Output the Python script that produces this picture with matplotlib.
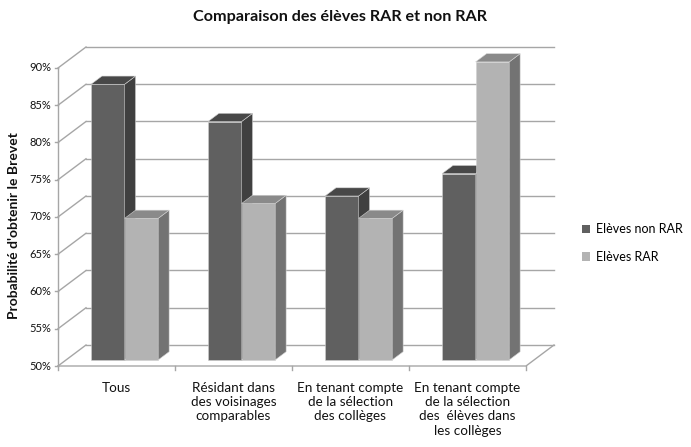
import matplotlib.pyplot as plt
from matplotlib.patches import Polygon, Patch

# données
categories = [
    "Tous",
    "Résidant dans\ndes voisinages\ncomparables",
    "En tenant compte\nde la sélection\ndes collèges",
    "En tenant compte\nde la sélection\ndes  élèves dans\nles collèges",
]
non_rar = [87, 82, 72, 75]
rar = [69, 71, 69, 90]
series_names = ["Elèves non RAR", "Elèves RAR"]
yticks = [50, 55, 60, 65, 70, 75, 80, 85, 90]

plt.rcParams['font.family'] = ['Lato', 'DejaVu Sans']

W, H = 691, 447
fig = plt.figure(figsize=(W / 100, H / 100), dpi=100)
ax = fig.add_axes([0, 0, 1, 1])
ax.set_axis_off()

# échelle du plan avant (en pixels) -> unités catégorie / pourcentage
px_cat = 117.0
px_pct = 7.45
x0_px, y0_px = 58, 366
ax.set_xlim(-x0_px / px_cat, (W - x0_px) / px_cat)
ax.set_ylim(50 - (H - y0_px) / px_pct, 50 + y0_px / px_pct)

# profondeur (effet 3D)
DX = 28 / px_cat
DY = 21 / px_pct


def P(x, v, d):
    return (x + d * DX, v + d * DY)


n = len(categories)
grid_c = "#a6a6a6"
txt_c = "#111111"
vmin = yticks[0]

# mur du fond + mur de gauche
for v in yticks:
    a, b = P(0, v, 1), P(n, v, 1)
    ax.plot([a[0], b[0]], [a[1], b[1]], color=grid_c, lw=1, zorder=1)
    a, b = P(0, v, 0), P(0, v, 1)
    ax.plot([a[0], b[0]], [a[1], b[1]], color=grid_c, lw=1, zorder=1)
    ax.plot([-3 / px_cat, 0], [v, v], color=grid_c, lw=1, zorder=1)
    ax.text(-7 / px_cat, v, f"{v}%", ha="right", va="center", fontsize=8,
            color=txt_c)

# sol
a, b, c = P(0, vmin, 0), P(n, vmin, 0), P(n, vmin, 1)
ax.plot([a[0], b[0], c[0]], [a[1], b[1], c[1]], color=grid_c, lw=1, zorder=1)
ax.plot([0, 0], [vmin, yticks[-1]], color=grid_c, lw=1, zorder=1)
for i in range(n + 1):
    ax.plot([i, i], [vmin, vmin - 4 / px_pct], color=grid_c, lw=1, zorder=1)

# barres
f0, f1 = 0.29, 0.68
bw = 0.287
styles = [
    ("#606060", "#404040", "#484848"),
    ("#b3b3b3", "#737373", "#8a8a8a"),
]


def draw_bar(xl, xr, v, cols):
    front, side, top = cols
    ax.add_patch(Polygon([P(xl, vmin, f0), P(xr, vmin, f0), P(xr, v, f0), P(xl, v, f0)],
                         closed=True, facecolor=front, edgecolor="#d0d0d0", lw=0.4, zorder=3))
    ax.add_patch(Polygon([P(xr, vmin, f0), P(xr, vmin, f1), P(xr, v, f1), P(xr, v, f0)],
                         closed=True, facecolor=side, edgecolor="#d0d0d0", lw=0.4, zorder=3))
    ax.add_patch(Polygon([P(xl, v, f0), P(xr, v, f0), P(xr, v, f1), P(xl, v, f1)],
                         closed=True, facecolor=top, edgecolor="#d0d0d0", lw=0.4, zorder=3))


for i in range(n):
    c = i + 0.5
    draw_bar(c - bw, c, non_rar[i], styles[0])
    draw_bar(c, c + bw, rar[i], styles[1])
    ax.text(c, vmin - 16 / px_pct, categories[i], ha="center", va="top",
            fontsize=9.7, linespacing=1.22, color=txt_c)

# titres
fig.text(0.492, 1 - 17 / H, "Comparaison des élèves RAR et non RAR",
         ha="center", va="center", fontsize=11.6, fontweight="bold", color=txt_c)
fig.text(14 / W, 1 - 226 / H, "Probabilité d'obtenir le Brevet", rotation=90,
         ha="center", va="center", fontsize=10, fontweight="bold", color=txt_c)

handles = [Patch(facecolor=styles[0][0]), Patch(facecolor=styles[1][0])]
ax.legend(handles, series_names, loc="center left", bbox_to_anchor=(582 / W, 1 - 243 / H),
          bbox_transform=fig.transFigure, frameon=False, fontsize=9, borderpad=0,
          borderaxespad=0, handlelength=0.65, handleheight=0.65, handletextpad=0.45,
          labelspacing=1.25)

fig.savefig("out.png", dpi=100)
